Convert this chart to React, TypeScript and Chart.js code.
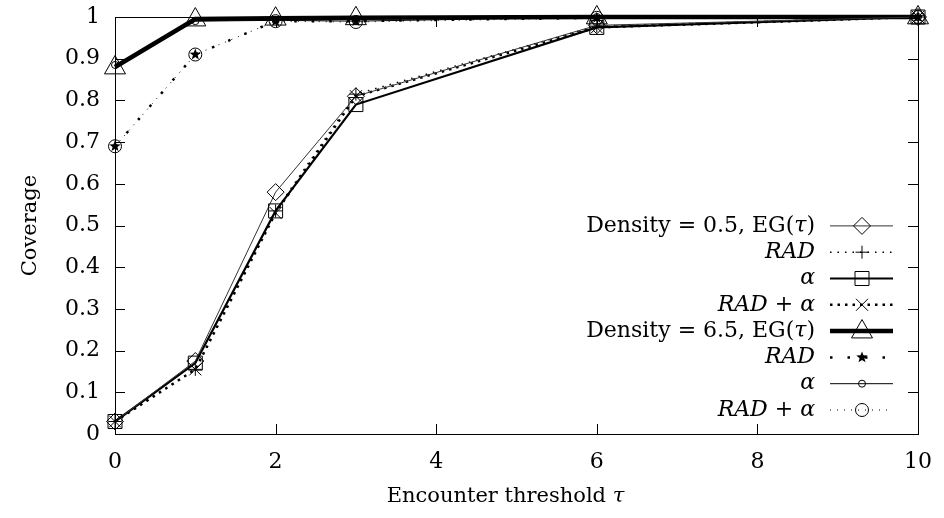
import React, { useEffect, useRef } from "react";
import { Chart, registerables } from "chart.js";

Chart.register(...registerables);

// ---------- data ----------
const thresholds = [0, 1, 2, 3, 6, 10];
const d05EG = [0.03, 0.175, 0.58, 0.81, 0.98, 1.0];
const d05RAD = [0.03, 0.155, 0.535, 0.815, 0.978, 1.0];
const d05Alpha = [0.03, 0.17, 0.535, 0.79, 0.975, 1.0];
const d05RADAlpha = [0.03, 0.155, 0.53, 0.81, 0.975, 1.0];
const d65EG = [0.88, 0.995, 0.997, 0.998, 1.0, 1.0];
const d65RAD = [0.69, 0.91, 0.99, 0.99, 0.998, 1.0];
const d65Alpha = [0.885, 0.99, 0.992, 0.99, 1.0, 1.0];
const d65RADAlpha = [0.69, 0.91, 0.99, 0.988, 0.998, 1.0];
const xTickValues = [0, 2, 4, 6, 8, 10];
const yTickValues = [0, 0.1, 0.2, 0.3, 0.4, 0.5, 0.6, 0.7, 0.8, 0.9, 1];
const xTitleSegs: [string, boolean][] = [["Encounter threshold ", false], ["τ", true]];
const yTitle = "Coverage";
// legend labels as [text, italic] segments
const legendLabels: [string, boolean][][] = [
  [["Density = 0.5, EG(", false], ["τ", true], [")", false]],
  [["RAD", true]],
  [["α", true]],
  [["RAD", true], [" + ", false], ["α", true]],
  [["Density = 6.5, EG(", false], ["τ", true], [")", false]],
  [["RAD", true]],
  [["α", true]],
  [["RAD", true], [" + ", false], ["α", true]],
];

const FONT = "'DejaVu Serif', 'Liberation Serif', serif";

function drawMarker(ctx: CanvasRenderingContext2D, kind: string, x: number, y: number, r: number) {
  ctx.save();
  ctx.strokeStyle = "#000";
  ctx.fillStyle = "#000";
  ctx.lineWidth = 1;
  ctx.setLineDash([]);
  ctx.beginPath();
  switch (kind) {
    case "diamond":
      ctx.moveTo(x, y - r);
      ctx.lineTo(x + r, y);
      ctx.lineTo(x, y + r);
      ctx.lineTo(x - r, y);
      ctx.closePath();
      ctx.stroke();
      break;
    case "plus":
      ctx.moveTo(x - r, y);
      ctx.lineTo(x + r, y);
      ctx.moveTo(x, y - r);
      ctx.lineTo(x, y + r);
      ctx.stroke();
      break;
    case "square":
      ctx.rect(x - r, y - r, 2 * r, 2 * r);
      ctx.stroke();
      break;
    case "cross":
      ctx.moveTo(x - r, y - r);
      ctx.lineTo(x + r, y + r);
      ctx.moveTo(x + r, y - r);
      ctx.lineTo(x - r, y + r);
      ctx.stroke();
      break;
    case "triangle":
      ctx.moveTo(x, y - r * 1.1);
      ctx.lineTo(x + r, y + r * 0.65);
      ctx.lineTo(x - r, y + r * 0.65);
      ctx.closePath();
      ctx.stroke();
      break;
    case "star": {
      const ri = r * 0.42;
      for (let i = 0; i < 10; i++) {
        const a = -Math.PI / 2 + (i * Math.PI) / 5;
        const rr = i % 2 === 0 ? r : ri;
        const px = x + rr * Math.cos(a);
        const py = y + rr * Math.sin(a);
        if (i === 0) ctx.moveTo(px, py);
        else ctx.lineTo(px, py);
      }
      ctx.closePath();
      ctx.fill();
      break;
    }
    case "circle":
      ctx.arc(x, y, r, 0, Math.PI * 2);
      ctx.stroke();
      break;
  }
  ctx.restore();
}

function drawSegs(ctx: CanvasRenderingContext2D, segs: [string, boolean][], right: number, y: number, size: number, center = false) {
  const widths: number[] = [];
  let total = 0;
  for (const [t, it] of segs) {
    ctx.font = `${it ? "italic " : ""}${size}px ${FONT}`;
    const w = ctx.measureText(t).width;
    widths.push(w);
    total += w;
  }
  let x = center ? right - total / 2 : right - total;
  ctx.textAlign = "left";
  segs.forEach(([t, it], k) => {
    ctx.font = `${it ? "italic " : ""}${size}px ${FONT}`;
    ctx.fillText(t, x, y);
    x += widths[k];
  });
}

export default function App() {
  const ref = useRef<HTMLCanvasElement | null>(null);

  useEffect(() => {
    if (!ref.current) return;
    Chart.defaults.font.family = FONT;
    Chart.defaults.color = "#000";

    const pts = (ys: number[]) => thresholds.map((x, i) => ({ x, y: ys[i] }));

    const base = {
      fill: false,
      clip: false as any,
      pointRadius: 0,
      pointHoverRadius: 0,
      tension: 0,
      borderColor: "#000",
      backgroundColor: "#000",
    };

    const datasets: any[] = [
      { ...base, data: pts(d05EG), borderWidth: 1, borderColor: "#333", marker: "diamond", msize: 8.5 },
      { ...base, data: pts(d05RAD), borderWidth: 1.5, borderDash: [1.5, 6], marker: "plus", msize: 6.5 },
      { ...base, data: pts(d05Alpha), borderWidth: 2.2, marker: "square", msize: 7 },
      { ...base, data: pts(d05RADAlpha), borderWidth: 2.5, borderDash: [2.5, 5], marker: "cross", msize: 6 },
      { ...base, data: pts(d65EG), borderWidth: 4.5, marker: "triangle", msize: 10.5 },
      { ...base, data: pts(d65RAD), borderWidth: 2.5, borderDash: [2.5, 15], marker: "star", msize: 6 },
      { ...base, data: pts(d65Alpha), borderWidth: 1, marker: "circle", msize: 3.5 },
      { ...base, data: pts(d65RADAlpha), borderWidth: 1, borderDash: [1, 6], marker: "circle", msize: 6.5 },
    ];

    const framePlugin = {
      id: "frame",
      beforeDatasetsDraw(chart: any) {
        const { ctx, chartArea: a, scales } = chart;
        ctx.save();
        ctx.strokeStyle = "#000";
        ctx.lineWidth = 1;
        ctx.strokeRect(a.left + 0.5, a.top + 0.5, a.right - a.left, a.bottom - a.top);
        ctx.beginPath();
        const L = 10;
        for (const v of xTickValues) {
          const x = Math.round(scales.x.getPixelForValue(v)) + 0.5;
          ctx.moveTo(x, a.bottom);
          ctx.lineTo(x, a.bottom - L);
          ctx.moveTo(x, a.top);
          ctx.lineTo(x, a.top + L);
        }
        for (const v of yTickValues) {
          const y = Math.round(scales.y.getPixelForValue(v)) + 0.5;
          ctx.moveTo(a.left, y);
          ctx.lineTo(a.left + L, y);
          ctx.moveTo(a.right, y);
          ctx.lineTo(a.right - L, y);
        }
        ctx.stroke();
        ctx.restore();
      },
    };

    const markerPlugin = {
      id: "markers",
      afterDatasetsDraw(chart: any) {
        const { ctx } = chart;
        chart.data.datasets.forEach((ds: any, i: number) => {
          const meta = chart.getDatasetMeta(i);
          meta.data.forEach((el: any) => {
            drawMarker(ctx, ds.marker, el.x, el.y, ds.msize);
          });
        });
      },
    };

    const legendPlugin = {
      id: "gpLegend",
      afterDraw(chart: any) {
        const { ctx, chartArea: a } = chart;
        const dsArr = chart.data.datasets;
        const n = legendLabels.length;
        const spacing = 26.3;
        const textRight = a.right - 103;
        const lx0 = a.right - 88;
        const lx1 = a.right - 25;
        const mx = a.right - 56;
        ctx.save();
        ctx.textBaseline = "middle";
        ctx.fillStyle = "#000";
        for (let i = 0; i < n; i++) {
          const y = a.bottom - 24 - (n - 1 - i) * spacing;
          drawSegs(ctx, legendLabels[i], textRight, y, 22);
          const ds = dsArr[i];
          ctx.strokeStyle = ds.borderColor;
          ctx.lineWidth = ds.borderWidth;
          ctx.setLineDash(ds.borderDash || []);
          ctx.beginPath();
          ctx.moveTo(lx0, y);
          ctx.lineTo(lx1, y);
          ctx.stroke();
          ctx.setLineDash([]);
          drawMarker(ctx, ds.marker, mx, y, ds.msize);
        }
        // x axis title
        drawSegs(ctx, xTitleSegs, (a.left + a.right) / 2 - 11, 497, 21, true);
        ctx.restore();
      },
    };

    const chart = new Chart(ref.current, {
      type: "line",
      data: { datasets },
      options: {
        responsive: false,
        animation: false,
        events: [],
        layout: { padding: { top: 17, right: 26, left: 0, bottom: 0 } },
        plugins: { legend: { display: false }, tooltip: { enabled: false } },
        scales: {
          x: {
            type: "linear",
            min: 0,
            max: 10,
            afterBuildTicks: (s: any) => {
              s.ticks = xTickValues.map((v) => ({ value: v }));
            },
            afterFit: (s: any) => {
              s.height = 84;
              s.paddingLeft = 0;
              s.paddingRight = 0;
            },
            grid: { display: false, drawTicks: false },
            border: { display: false },
            ticks: { padding: 15, font: { size: 22 }, color: "#000", maxRotation: 0 },
            title: { display: false },
          },
          y: {
            type: "linear",
            min: 0,
            max: 1,
            afterBuildTicks: (s: any) => {
              s.ticks = yTickValues.map((v) => ({ value: v }));
            },
            afterFit: (s: any) => {
              s.width = 115;
              s.paddingTop = 0;
              s.paddingBottom = 0;
            },
            grid: { display: false, drawTicks: false },
            border: { display: false },
            ticks: {
              padding: 15,
              font: { size: 22 },
              color: "#000",
              callback: (v: any) => {
                const n = Number(v);
                if (Math.abs(n) < 1e-9) return "0";
                if (Math.abs(n - 1) < 1e-9) return "1";
                return n.toFixed(1);
              },
            },
            title: { display: true, text: yTitle, font: { size: 21 }, color: "#000", padding: { top: 18 } },
          },
        },
      },
      plugins: [framePlugin, markerPlugin, legendPlugin],
    });
    return () => chart.destroy();
  }, []);

  return (
    <div style={{ position: "fixed", left: 0, top: 0, width: 944, height: 518, background: "#fff" }}>
      <canvas ref={ref} width={944} height={518} style={{ width: 944, height: 518 }} />
    </div>
  );
}
